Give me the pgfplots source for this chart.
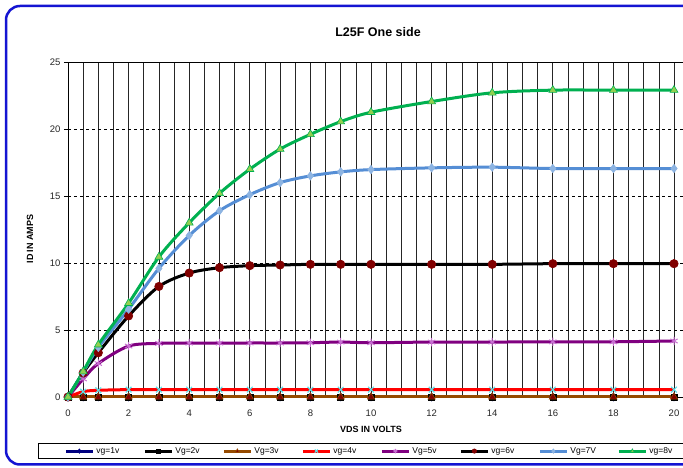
\documentclass[border=0pt]{standalone}
\usepackage{pgfplots}
\usepackage{pgfplotstable}
\pgfplotsset{compat=1.18}
\usepackage{fontspec}
\setmainfont{Liberation Sans}

\definecolor{vgone}{RGB}{0,0,128}
\definecolor{vgthree}{RGB}{150,75,0}
\definecolor{darkred}{RGB}{128,0,0}
\definecolor{xcyan}{RGB}{90,225,235}
\definecolor{vgfive}{RGB}{128,0,128}
\definecolor{starpink}{RGB}{200,110,210}
\definecolor{vgseven}{RGB}{85,142,213}
\definecolor{vgsevenm}{RGB}{141,180,226}
\definecolor{vgeight}{RGB}{0,176,80}
\definecolor{vgeightm}{RGB}{146,208,80}
\definecolor{frameblue}{RGB}{20,20,210}

% drain current (A) against VDS (V), one column per gate voltage
\pgfplotstableread{
vds  v1 v2 v3 v4   v5   v6   v7    v8
0    0  0  0  0    0    0    0     0
0.5  0  0  0  0.4  1.35 1.8  1.85  1.9
1    0  0  0  0.5  2.5  3.3  3.7   3.9
2    0  0  0  0.55 3.8  6.05 6.55  7.0
3    0  0  0  0.55 4.0  8.25 9.6   10.45
4    0  0  0  0.55 4.02 9.25 12.05 13.0
5    0  0  0  0.55 4.02 9.65 13.9  15.2
6    0  0  0  0.55 4.03 9.8  15.1  17.0
7    0  0  0  0.55 4.03 9.85 16.0  18.5
8    0  0  0  0.55 4.05 9.9  16.5  19.6
9    0  0  0  0.55 4.1  9.9  16.8  20.55
10   0  0  0  0.55 4.05 9.9  16.97 21.25
12   0  0  0  0.55 4.1  9.9  17.1  22.05
14   0  0  0  0.55 4.1  9.9  17.15 22.7
16   0  0  0  0.55 4.12 9.95 17.05 22.9
18   0  0  0  0.55 4.12 9.95 17.05 22.9
20   0  0  0  0.55 4.18 9.95 17.05 22.9
}\idtable

\begin{document}
\begin{tikzpicture}
\useasboundingbox (0,0) rectangle (683pt,468pt);
\fill[white] (0,0) rectangle (683pt,468pt);
\clip (0,0) rectangle (683pt,468pt);

\begin{axis}[
    at={(68pt,71pt)}, anchor=south west,
    x=30.3pt, y=13.4pt,
    xmin=0, xmax=20.4, ymin=0, ymax=25,
    xtick={0,2,...,20}, minor x tick num=3,
    ytick={0,5,...,25},
    xmajorgrids, xminorgrids, ymajorgrids,
    major x grid style={black!85, line width=0.7pt},
    minor x grid style={black!85, line width=0.7pt},
    major y grid style={black, dashed, line width=0.6pt},
    axis line style={black, line width=0.8pt},
    tick align=outside,
    major tick length=4pt, minor tick length=0pt,
    xtick style={draw=none},
    ytick style={black, line width=0.6pt},
    tick label style={font=\fontsize{9.5}{11}\selectfont, text=black!85},
    /pgf/number format/assume math mode=true,
    xticklabel style={yshift=-5pt},
    clip=false,
    legend columns=8,
    legend style={
        at={(-0.0485,-0.1373)}, anchor=north west,
        draw=black, line width=0.7pt,
        inner xsep=26pt, inner ysep=2pt,
        font=\fontsize{8.5}{9.5}\selectfont,
    },
    legend image code/.code={
        \draw[#1, mark size=2.2pt, mark repeat=2, mark phase=2]
            plot coordinates {(0pt,0pt) (13.5pt,0pt) (27pt,0pt)};
    },
    every axis plot/.append style={line width=3pt, smooth},
]

\addplot[vgone, mark=diamond*, mark size=4pt,
    mark options={line width=0.6pt, fill=vgone}]
    table[x=vds, y=v1] {\idtable};
\addlegendentry{\makebox[45pt][l]{vg=1v}}

\addplot[black, mark=square*, mark size=3pt,
    mark options={line width=0.6pt, fill=black}]
    table[x=vds, y=v2] {\idtable};
\addlegendentry{\makebox[45pt][l]{Vg=2v}}

\addplot[vgthree, mark=triangle*, mark size=4.2pt,
    mark options={line width=0.6pt, draw=vgthree, fill=darkred}]
    table[x=vds, y=v3] {\idtable};
\addlegendentry{\makebox[45pt][l]{Vg=3v}}

\addplot[red, mark=x, mark size=4pt,
    mark options={line width=1.1pt, draw=xcyan}]
    table[x=vds, y=v4] {\idtable};
\addlegendentry{\makebox[45pt][l]{vg=4v}}

\addplot[vgfive, mark=asterisk, mark size=4.2pt,
    mark options={line width=1pt, draw=starpink}]
    table[x=vds, y=v5] {\idtable};
\addlegendentry{\makebox[45pt][l]{Vg=5v}}

\addplot[black, mark=*, mark size=4.2pt,
    mark options={line width=0.6pt, draw=darkred, fill=darkred}]
    table[x=vds, y=v6] {\idtable};
\addlegendentry{\makebox[45pt][l]{vg=6v}}

\addplot[vgseven, mark=diamond*, mark size=4.2pt,
    mark options={line width=0.6pt, draw=vgsevenm, fill=vgsevenm}]
    table[x=vds, y=v7] {\idtable};
\addlegendentry{\makebox[45pt][l]{Vg=7V}}

\addplot[vgeight, mark=triangle*, mark size=4.6pt,
    mark options={line width=0.6pt, draw=vgeight, fill=vgeightm}]
    table[x=vds, y=v8] {\idtable};
\addlegendentry{\makebox[45pt][l]{vg=8v}}

\end{axis}

\node[font=\bfseries\fontsize{12.5}{14}\selectfont] at (378pt,435.5pt) {L25F One side};
\node[font=\bfseries\fontsize{9}{10}\selectfont] at (371pt,39pt) {VDS IN VOLTS};
\node[rotate=90, font=\bfseries\fontsize{9}{10}\selectfont] at (30pt,229pt) {ID IN AMPS};

\draw[frameblue, line width=2.5pt, rounded corners=14pt]
    (6pt,3.5pt) rectangle (720pt,462pt);
\end{tikzpicture}
\end{document}
